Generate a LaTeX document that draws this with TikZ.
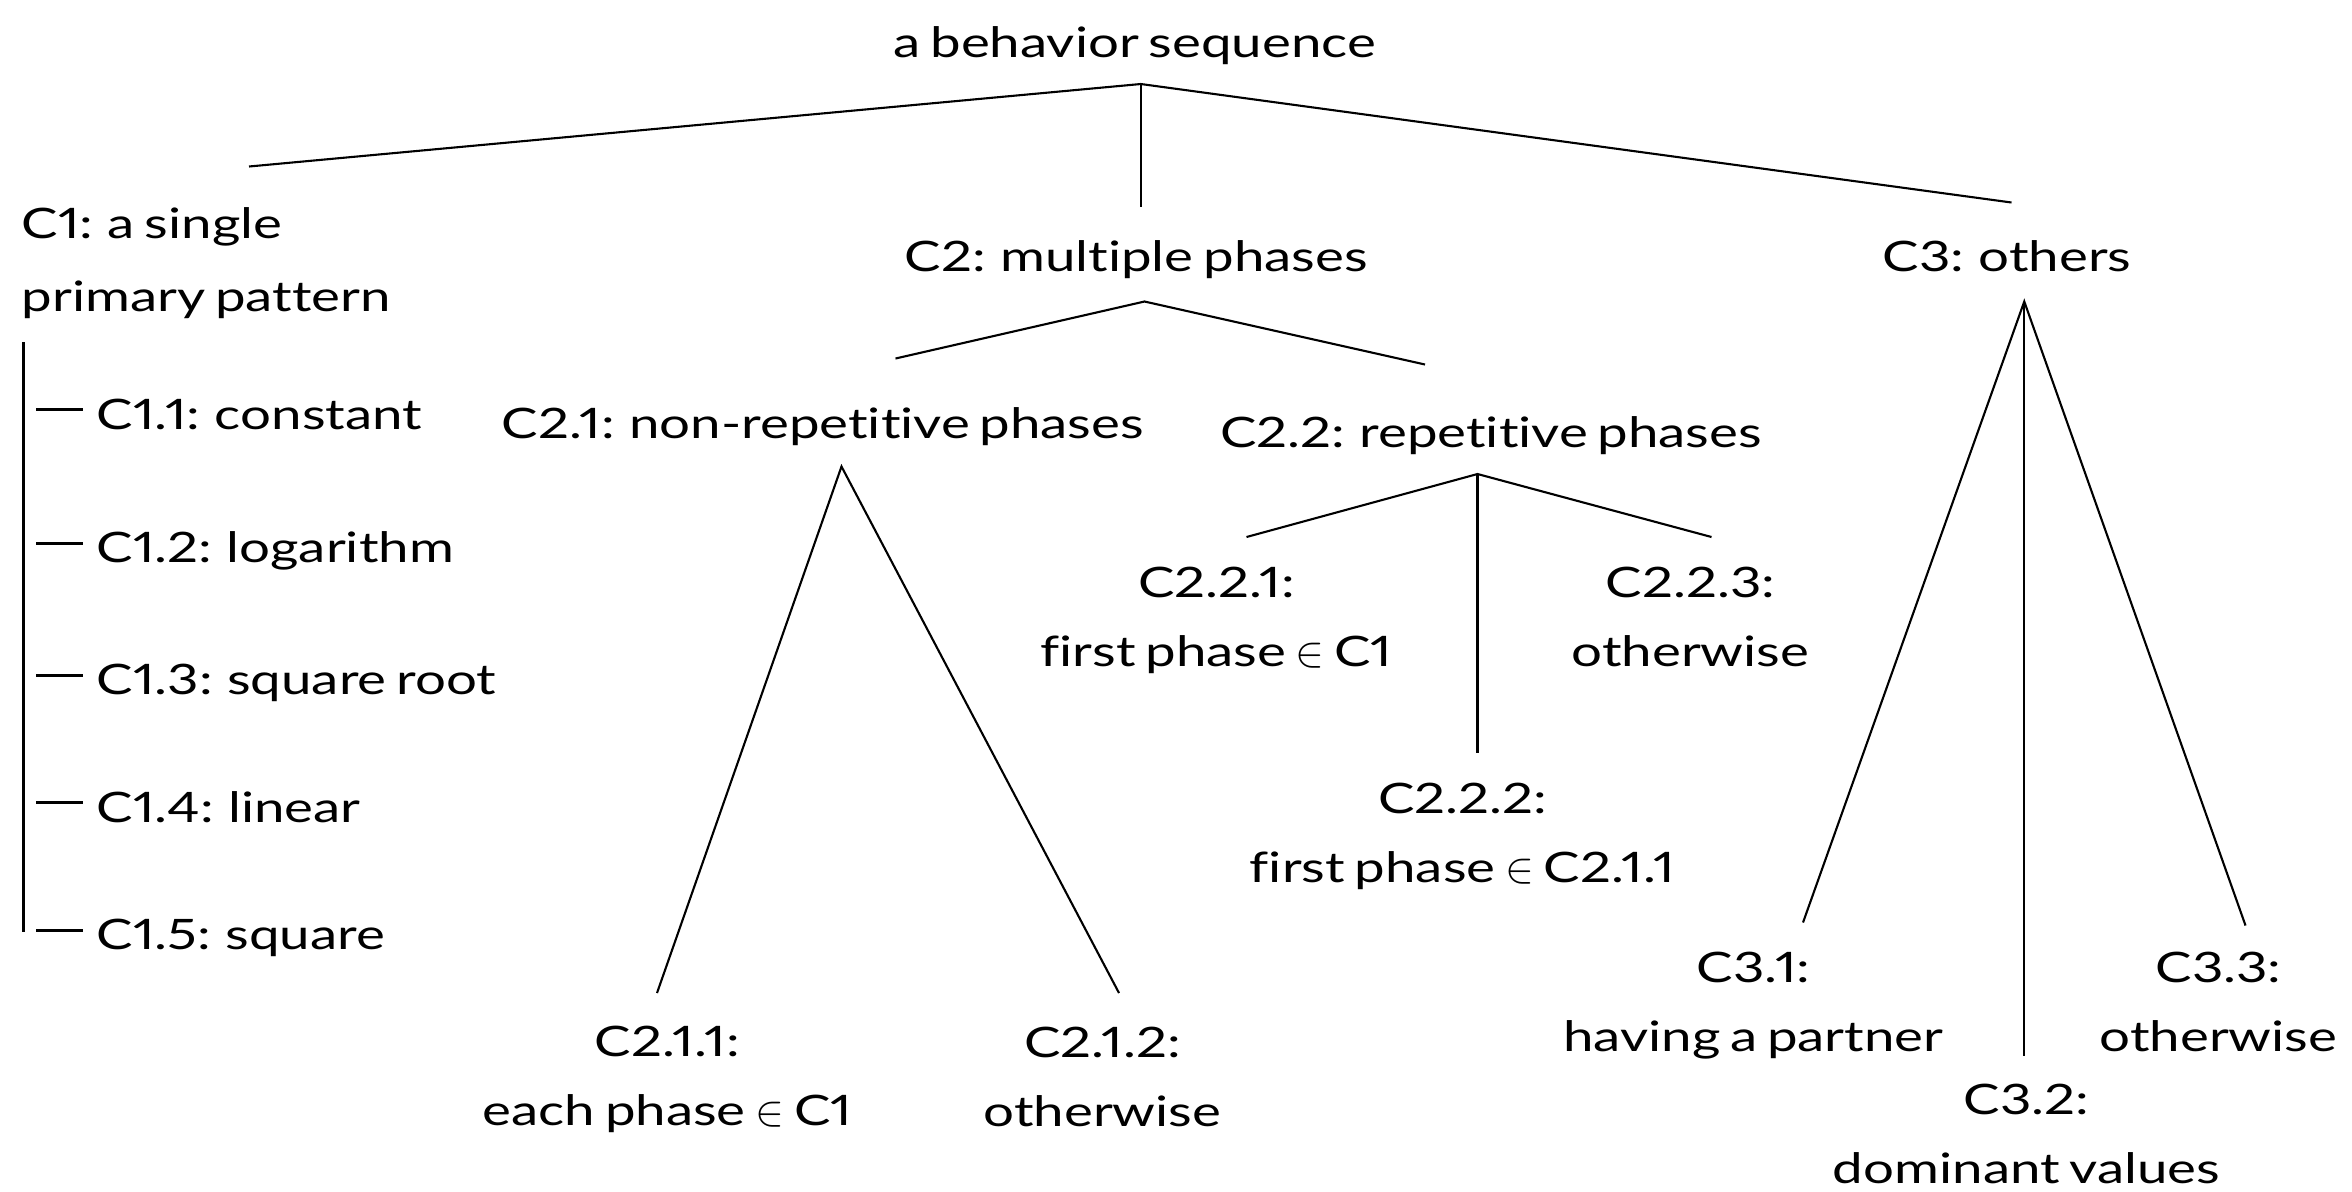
\documentclass[tikz,border=0pt]{standalone}
\usepackage{fontspec}
\setmainfont[FakeStretch=1.3,WordSpace=0.7,Numbers=Proportional,Ligatures=CommonOff]{Lato}
\usetikzlibrary{calc}
\newcommand{\lblfont}{\fontsize{14}{23}\selectfont}
\newcommand{\twoc}[2]{\begin{tabular}[t]{@{}c@{}}#1\\#2\end{tabular}}
\newcommand{\nolig}{\kern0pt\relax}
\tikzset{
  lbl/.style={inner sep=0pt, outer sep=0pt, anchor=base, font=\lblfont},
  lbll/.style={lbl, anchor=base west},
  edge/.style={line width=0.7pt},
  rail/.style={line width=1pt},
  tick/.style={line width=1pt}
}
\begin{document}
\begin{tikzpicture}[x=0.5pt,y=-0.5pt]
\useasboundingbox (0,0) rectangle (1568,794);
% nodes
\node[lbl] (root) at (756.5,38) {a behavior sequence};
\node[lbll] (c1) at (14.5,159) {\begin{tabular}[t]{@{}l@{}}C1: a single\\[1.3pt]primary pattern\end{tabular}};
\node[lbl] (c2) at (757.5,181) {C2: multiple phases};
\node[lbl] (c3) at (1338,181) {C3: others};
\node[lbl] (c21) at (548.5,292) {C2.1: non-repet\nolig it\nolig ive phases};
\node[lbl] (c22) at (994,298) {C2.2: repet\nolig it\nolig ive phases};
\node[lbl] (c221) at (811,398) {\twoc{C2.2.1:}{f\nolig irst phase $\in$ C1}};
\node[lbl] (c223) at (1127,398) {\twoc{C2.2.3:}{otherwise}};
\node[lbl] (c222) at (975,542) {\twoc{C2.2.2:}{f\nolig irst phase $\in$ C2.1.1}};
\node[lbl] (c211) at (445,704) {\twoc{C2.1.1:}{each phase $\in$ C1}};
\node[lbl] (c212) at (735,705) {\twoc{C2.1.2:}{otherwise}};
\node[lbl] (c31) at (1169,655) {\twoc{C3.1:}{having a partner}};
\node[lbl] (c33) at (1479,655) {\twoc{C3.3:}{otherwise}};
\node[lbl] (c32) at (1351,743) {\twoc{C3.2:}{dominant values}};
\node[lbll] (c11) at (64.5,286) {C1.1: constant};
\node[lbll] (c12) at (64.5,375) {C1.2: logarithm};
\node[lbll] (c13) at (64.5,463) {C1.3: square root};
\node[lbll] (c14) at (64.5,548) {C1.4: linear};
\node[lbll] (c15) at (64.5,633) {C1.5: square};
% junctions and ends
\coordinate (jr) at (760.5,56);
\coordinate (ec1) at (166,111);
\coordinate (ec2) at (760.5,138);
\coordinate (ec3) at (1341,135);
\coordinate (j2) at (763,201);
\coordinate (ec21) at (597,239);
\coordinate (ec22) at (950,243);
\coordinate (j21) at (561,311);
\coordinate (ec211) at (438,662);
\coordinate (ec212) at (746,662);
\coordinate (j22) at (985,316);
\coordinate (ec221) at (831,358);
\coordinate (ec222) at (985,502);
\coordinate (ec223) at (1141,358);
\coordinate (j3) at (1349.5,201);
\coordinate (ec31) at (1202,615);
\coordinate (ec32) at (1349.5,704);
\coordinate (ec33) at (1497,617);
\coordinate (railtop) at (15.5,228);
% connectors
\draw[edge] (ec1) -- (jr) -- (ec3);
\draw[edge] (jr) -- (ec2);
\draw[edge] (ec21) -- (j2) -- (ec22);
\draw[edge] (ec211) -- (j21) -- (ec212);
\draw[edge] (ec221) -- (j22) -- (ec223);
\draw[edge] (j22) -- (ec222);
\draw[edge] (ec31) -- (j3) -- (ec33);
\draw[edge] (j3) -- (ec32);
\draw[rail] (railtop) -- ($(c15.base west)+(-49,-12)$);
\foreach \n in {c11,c12,c13,c14,c15}{
  \draw[tick] ($(\n.base west)+(-40.5,-13)$) -- ($(\n.base west)+(-9.5,-13)$);
}
\end{tikzpicture}
\end{document}
